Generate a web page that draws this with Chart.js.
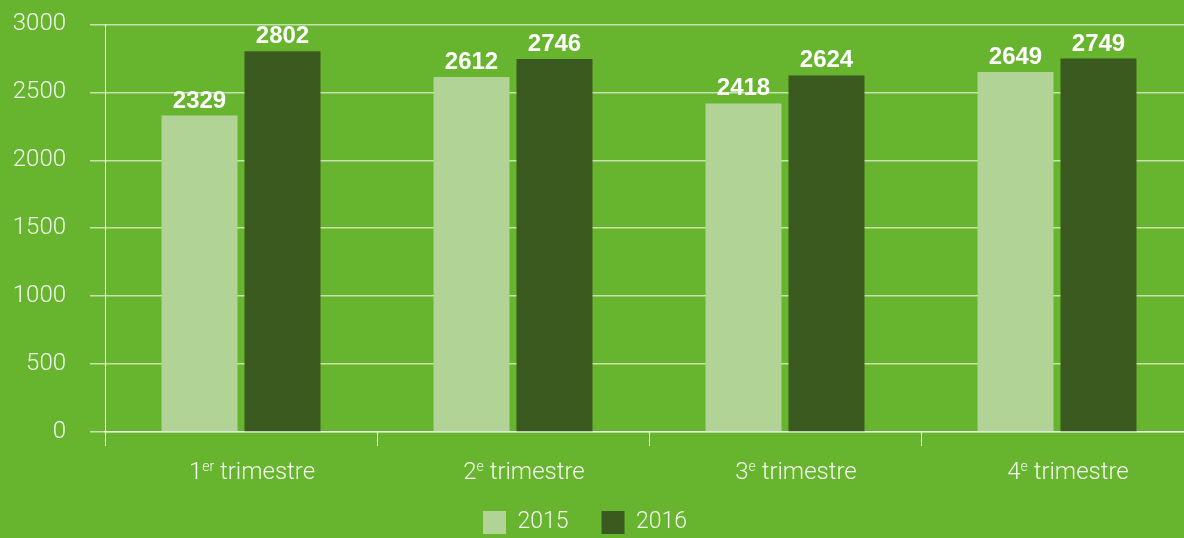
<!DOCTYPE html>
<html>
<head>
<meta charset="utf-8">
<script src="https://cdn.jsdelivr.net/npm/chart.js@4/dist/chart.umd.min.js"></script>
<style>
  html, body { margin: 0; padding: 0; background: #67b42e; overflow: hidden; }
  /* the y tick padding also pads the top of the plot, so the canvas is pulled up a little */
  #wrap { width: 1200px; height: 558px; margin-top: -14px; }
</style>
</head>
<body>
<div id="wrap"><canvas id="chart" width="1200" height="558"></canvas></div>
<script>
// data
const quarterNumbers = ['1', '2', '3', '4'];
const quarterSuffixes = ['er', 'e', 'e', 'e'];
const quarterWord = 'trimestre';
const categories = quarterNumbers.map((n, i) => n + quarterSuffixes[i] + ' ' + quarterWord);
const seriesNames = ['2015', '2016'];
const values2015 = [2329, 2612, 2418, 2649];
const values2016 = [2802, 2746, 2624, 2749];
const yMin = 0, yMax = 3000, yStep = 500;

const light = '#b1d496';
const dark = '#3b5a1f';
const gridColor = 'rgba(255,255,255,0.62)';
const textColor = '#f4f8ef';
const thinFont = 'Roboto';

// value labels above bars
const valueLabels = {
  id: 'valueLabels',
  afterDatasetsDraw(chart) {
    const ctx = chart.ctx;
    ctx.save();
    ctx.font = 'bold 24px "Liberation Sans", Arial, sans-serif';
    ctx.fillStyle = '#ffffff';
    ctx.textAlign = 'center';
    ctx.textBaseline = 'alphabetic';
    chart.data.datasets.forEach((ds, di) => {
      chart.getDatasetMeta(di).data.forEach((bar, i) => {
        ctx.fillText(String(ds.data[i]), bar.x, bar.y - 8);
      });
    });
    ctx.restore();
  }
};

// category labels with superscript ordinal
const quarterLabels = {
  id: 'quarterLabels',
  afterDraw(chart) {
    const ctx = chart.ctx;
    const xs = chart.scales.x;
    const baseY = chart.chartArea.bottom + 47;
    const big = '300 24px ' + thinFont;
    const small = '300 14px ' + thinFont;
    ctx.save();
    ctx.fillStyle = textColor;
    ctx.textAlign = 'left';
    ctx.textBaseline = 'alphabetic';
    quarterNumbers.forEach((n, i) => {
      const rest = ' ' + quarterWord;
      ctx.font = big;
      const wN = ctx.measureText(n).width;
      const wR = ctx.measureText(rest).width;
      ctx.font = small;
      const wS = ctx.measureText(quarterSuffixes[i]).width;
      const cx = xs.getPixelForValue(i) + 11;
      let x = cx - (wN + wS + wR) / 2;
      ctx.font = big;
      ctx.fillText(n, x, baseY);
      x += wN;
      ctx.font = small;
      ctx.fillText(quarterSuffixes[i], x, baseY - 8);
      x += wS;
      ctx.font = big;
      ctx.fillText(rest, x, baseY);
    });
    ctx.restore();
  }
};

// nudge legend to sit centred like the original
const legendShift = {
  id: 'legendShift',
  afterLayout(chart) {
    if (chart.legend) chart.legend.left -= 23;
  }
};

new Chart(document.getElementById('chart'), {
  type: 'bar',
  data: {
    labels: categories,
    datasets: [
      { label: seriesNames[0], data: values2015, backgroundColor: light },
      { label: seriesNames[1], data: values2016, backgroundColor: dark }
    ]
  },
  options: {
    responsive: false,
    animation: false,
    categoryPercentage: 0.61,
    barPercentage: 0.916,
    layout: { padding: { top: 11, right: 7, bottom: 0, left: 0 } },
    scales: {
      x: {
        grid: { drawOnChartArea: false, drawTicks: true, tickLength: 14, color: '#ffffff', lineWidth: 1 },
        border: { display: true, color: gridColor, width: 1.5 },
        ticks: { display: false },
        afterFit(s) { s.height = 46; }
      },
      y: {
        min: yMin, max: yMax,
        ticks: {
          stepSize: yStep, padding: 24, color: textColor,
          font: { family: thinFont, size: 24, weight: '300' },
          callback: v => String(v)
        },
        grid: { color: gridColor, lineWidth: 1.5, tickLength: 15 },
        border: { display: true, color: '#ffffff', width: 1 },
        afterFit(s) { s.width = 105; }
      }
    },
    plugins: {
      legend: {
        position: 'bottom',
        labels: {
          boxWidth: 23, boxHeight: 23, padding: 33, color: textColor,
          font: { family: thinFont, size: 23, weight: '300' }
        }
      },
      tooltip: { enabled: false }
    }
  },
  plugins: [valueLabels, quarterLabels, legendShift]
});
</script>
</body>
</html>
